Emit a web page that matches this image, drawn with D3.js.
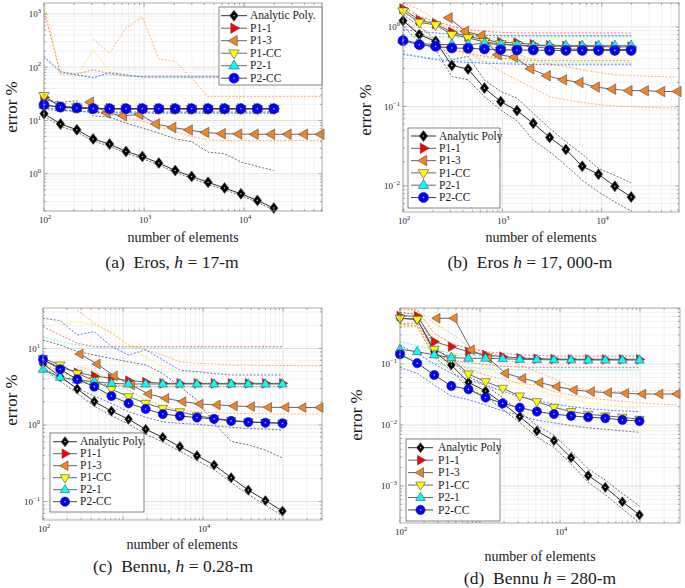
<!DOCTYPE html>
<html>
<head>
<meta charset="utf-8">
<script src="https://cdn.jsdelivr.net/npm/d3@7"></script>
<style>
  body { margin: 0; background: #fff; }
  svg text { font-family: "Liberation Serif", "DejaVu Serif", serif; fill: #1a1a1a; white-space: pre; }
</style>
</head>
<body>
<svg id="chart" width="685" height="588"></svg>
<script>
// ---------- data: number of elements ----------
const AB_N = [100, 146, 213, 310, 452, 660, 962, 1404, 2048, 2990, 4360, 6370, 9290, 13560, 19800, 28900, 42200, 58400];
const AB_P13_N = [290, 425, 620, 905, 1320, 1930, 2820, 4120, 6020, 8790, 12840, 18750, 27380, 39980, 58400];
const CD_N = [100, 164, 268, 438, 717, 1173, 1919, 3140, 5137, 8404, 13750, 22490, 36800, 60200, 98500, 177000, 290000];
const CD_P13_N = [290, 475, 778, 1274, 2087, 3418, 5598, 9170, 15020, 24600, 40300, 66000, 108100, 177100, 290000];

const X_TICKS_AB = [1e2, 1e3, 1e4];
const X_TICKS_CD = [1e2, 1e4];
const A_Y_TICKS = [1, 10, 100, 1000];
const B_Y_TICKS = [0.01, 0.1, 1];
const C_Y_TICKS = [0.1, 1, 10];
const D_Y_TICKS = [0.001, 0.01, 0.1];

// ---------- (a) Eros, h = 17 m ----------
const A_ANALYTIC = [13.4, 8.6, 6.7, 4.5, 3.6, 2.62, 2.11, 1.59, 1.15, 0.89, 0.69, 0.54, 0.42, 0.316, 0.227];
const A_P11 = [27, 18.5, 17.3, 16.8, 16.7, 16.6, 16.6, 16.6, 16.6, 16.6, 16.6, 16.6, 16.6, 16.6, 16.6];
const A_P13 = [22, 13.8, 12.2, 13, 8.6, 7.4, 6.6, 5.95, 5.65, 5.55, 5.5, 5.5, 5.5, 5.5, 5.5];
const A_P1CC = [29, 18.2, 17.8, 16.9, 16.7, 16.6, 16.6, 16.6, 16.6, 16.6, 16.6, 16.6, 16.6, 16.6, 16.6];
const A_P21 = [19.4, 17.6, 17, 16.6, 16.5, 16.5, 16.5, 16.5, 16.5, 16.5, 16.5, 16.5, 16.5, 16.5, 16.5];
const A_P2CC = [19.7, 17.8, 17.1, 16.7, 16.6, 16.6, 16.6, 16.6, 16.6, 16.6, 16.6, 16.6, 16.6, 16.6, 16.6];

const A_ANALYTIC_UP = [24.4, 21.8, 23.4, 12.2, 11.6, 8.9, 7.2, 5.8, 4.5, 4.0, 2.55, 2.37, 1.66, 1.37, 1.15];
const A_ANALYTIC_LO = [12, 7.8, 6.1, 4.1, 3.3, 2.4, 1.93, 1.46, 1.06, 0.82, 0.63, 0.5, 0.39, 0.29, 0.21];
const A_P11_UP = [1200, 75, 75, 89, 75, 68, 68, 68, 68, 68, 68, 68, 68, 68, 68];
const A_P11_LO = [16, 15.2, 14.8, 14.6, 14.5, 14.5, 14.5, 14.5, 14.5, 14.5, 14.5, 14.5, 14.5, 14.5, 14.5];
const A_P13_UP = [null, null, null, 337, 184, 542, 871, 142, 128, 62, 28, 28, 28, 28, 28, 28, 28, 28];
const A_P13_LO = [null, null, null, 13.8, 12.8, 11.1, 9.6, 7.7, 6.2, 5.0, 4.3, 4.2, 4.2, 4.2, 4.2, 4.2, 4.2, 4.2];
const A_P1CC_UP = [1800, 72, 67, 212, 83, 68, 67, 67, 67, 67, 67, 67, 67, 67, 67];
const A_P1CC_LO = [17, 15.5, 15, 14.4, 14.1, 14, 14, 14, 14, 14, 14, 14, 14, 14, 14];
const A_P21_UP = [150, 80, 70, 66, 72, 68, 66, 66, 66, 66, 66, 66, 66, 66, 66];
const A_P21_LO = [16.8, 15.4, 14.6, 14.1, 13.9, 13.8, 13.8, 13.8, 13.8, 13.8, 13.8, 13.8, 13.8, 13.8, 13.8];
const A_P2CC_UP = [159, 83, 72, 63, 79, 72, 65, 65, 65, 65, 65, 65, 65, 65, 65];
const A_P2CC_LO = [17.5, 16, 15, 14.3, 14, 13.8, 13.8, 13.8, 13.8, 13.8, 13.8, 13.8, 13.8, 13.8, 13.8];

// ---------- (b) Eros, h = 17,000 m ----------
const B_ANALYTIC = [1.2, 0.80, 0.659, 0.328, 0.295, 0.170, 0.115, 0.0886, 0.0613, 0.0408, 0.0288, 0.0177, 0.014, 0.0099, 0.00726];
const B_P11 = [1.69, 1.21, 1.1, 0.856, 0.763, 0.69, 0.64, 0.63, 0.6, 0.58, 0.57, 0.57, 0.565, 0.56, 0.56];
const B_P13 = [1.3, 0.88, 0.778, 0.447, 0.418, 0.298, 0.243, 0.216, 0.2, 0.175, 0.165, 0.158, 0.158, 0.154, 0.154];
const B_P1CC = [1.58, 1.14, 1.06, 0.8, 0.73, 0.65, 0.61, 0.59, 0.56, 0.54, 0.53, 0.52, 0.52, 0.52, 0.52];
const B_P21 = [0.69, 0.62, 0.6, 0.6, 0.6, 0.62, 0.6, 0.59, 0.58, 0.58, 0.58, 0.58, 0.58, 0.58, 0.58];
const B_P2CC = [0.672, 0.598, 0.57, 0.543, 0.538, 0.527, 0.517, 0.512, 0.512, 0.507, 0.507, 0.507, 0.507, 0.507, 0.507];

const B_ANALYTIC_UP = [1.43, 1.02, 0.69, 0.387, 0.426, 0.216, 0.154, 0.127, 0.082, 0.053, 0.036, 0.0251, 0.0166, 0.0136, 0.0109];
const B_ANALYTIC_LO = [1.02, 0.64, 0.517, 0.238, 0.216, 0.133, 0.0903, 0.0662, 0.0377, 0.0269, 0.0182, 0.0118, 0.0084, 0.00628, 0.00483];
const B_P11_UP = [1.82, 1.36, 1.18, 1.02, 0.925, 0.88, 0.856, 0.84, 0.84, 0.84, 0.84, 0.84, 0.84, 0.84, 0.84];
const B_P11_LO = [1.24, 0.84, 0.69, 0.517, 0.47, 0.426, 0.406, 0.387, 0.38, 0.376, 0.376, 0.376, 0.376, 0.376, 0.376];
const B_P13_UP = [2.0, 1.66, 1.24, 0.84, 0.73, 0.63, 0.52, 0.45, 0.39, 0.34, 0.318, 0.289, 0.268, 0.25, 0.245, 0.24, 0.236, 0.233];
const B_P13_LO = [null, null, null, 0.517, 0.47, 0.368, 0.275, 0.216, 0.17, 0.133, 0.121, 0.112, 0.106, 0.101, 0.0995, 0.0976, 0.0958, 0.095];
const B_P1CC_UP = [1.75, 1.3, 1.12, 0.95, 0.87, 0.82, 0.8, 0.78, 0.775, 0.77, 0.77, 0.77, 0.77, 0.77, 0.77];
const B_P1CC_LO = [1.2, 0.8, 0.66, 0.5, 0.45, 0.41, 0.39, 0.37, 0.365, 0.36, 0.36, 0.36, 0.36, 0.36, 0.36];
const B_P21_UP = [0.76, 0.75, 0.745, 0.745, 0.745, 0.745, 0.745, 0.745, 0.745, 0.745, 0.745, 0.745, 0.745, 0.745, 0.745];
const B_P21_LO = [0.47, 0.43, 0.4, 0.385, 0.375, 0.368, 0.36, 0.355, 0.35, 0.35, 0.35, 0.35, 0.35, 0.35, 0.35];
const B_P2CC_UP = [0.925, 0.88, 0.84, 0.816, 0.80, 0.78, 0.777, 0.777, 0.777, 0.777, 0.777, 0.777, 0.777, 0.777, 0.777];
const B_P2CC_LO = [0.45, 0.42, 0.387, 0.368, 0.357, 0.35, 0.344, 0.34, 0.337, 0.334, 0.334, 0.334, 0.334, 0.334, 0.334];

// ---------- (c) Bennu, h = 0.28 m ----------
const C_ANALYTIC = [6.3, 4.3, 2.96, 2.02, 1.52, 1.19, 0.877, 0.69, 0.521, 0.397, 0.3, 0.205, 0.141, 0.103, 0.075];
const C_P11 = [7.0, 5.7, 4.83, 4.37, 4.07, 3.8, 3.65, 3.5, 3.5, 3.5, 3.5, 3.5, 3.5, 3.5, 3.5];
const C_P13 = [8.47, 6.27, 4.37, 3.33, 2.54, 2.23, 2.02, 1.88, 1.83, 1.77, 1.74, 1.70, 1.70, 1.69, 1.69];
const C_P1CC = [7.4, 6.09, 4.73, 3.8, 2.93, 2.35, 1.92, 1.65, 1.49, 1.32, 1.22, 1.15, 1.1, 1.08, 1.06];
const C_P21 = [5.34, 4.2, 3.87, 3.68, 3.5, 3.43, 3.43, 3.43, 3.43, 3.43, 3.43, 3.43, 3.43, 3.43, 3.43];
const C_P2CC = [7.2, 5.34, 3.95, 3.17, 2.39, 1.92, 1.62, 1.39, 1.31, 1.25, 1.2, 1.13, 1.09, 1.07, 1.05];

const C_ANALYTIC_UP = [12.9, 11.1, 9.1, 8.2, 7.4, 6.7, 6.1, 4.7, 3.2, 2.12, 1.05, 0.61, 0.55, 0.47, 0.37];
const C_ANALYTIC_LO = [5.5, 3.75, 2.58, 1.76, 1.32, 1.03, 0.76, 0.6, 0.453, 0.345, 0.26, 0.178, 0.123, 0.09, 0.065];
const C_P11_UP = [19.3, 15, 11.7, 10.6, 10.6, 10.6, 10.6, 10.6, 10.6, 10.6, 10.6, 10.6, 10.6, 10.6, 10.6];
const C_P11_LO = [6.3, 5.0, 4.0, 3.5, 3.3, 3.2, 3.17, 3.17, 3.17, 3.17, 3.17, 3.17, 3.17, 3.17, 3.17];
const C_P13_UP = [null, null, 31.9, 21.3, 15.8, 11.1, 9.6, 8.2, 6.7, 6.4, 6.3, 6.1, 6.1, 6.0, 6.0, 5.95, 5.9];
const C_P13_LO = [null, null, 5.8, 5.0, 3.8, 2.87, 2.12, 1.74, 1.57, 1.49, 1.45, 1.42, 1.41, 1.4, 1.39, 1.39, 1.39];
const C_P1CC_UP = [27.4, 20.3, 22.4, 20.3, 16.6, 11.1, 7.8, 5.8, 5.0, 4.8, 4.7, 4.7, 4.7, 4.7, 4.7];
const C_P1CC_LO = [6.5, 5.0, 3.7, 2.9, 2.25, 1.8, 1.45, 1.25, 1.12, 1.05, 1.0, 0.96, 0.93, 0.9, 0.88];
const C_P21_UP = [14.3, 12.3, 11.1, 10.4, 10.1, 10.1, 10.1, 10.1, 10.1, 10.1, 10.1, 10.1, 10.1, 10.1, 10.1];
const C_P21_LO = [4.7, 4.2, 3.7, 3.43, 3.17, 3.17, 3.17, 3.17, 3.17, 3.17, 3.17, 3.17, 3.17, 3.17, 3.17];
const C_P2CC_UP = [24.8, 23.1, 15, 16.6, 10.6, 8.2, 9.6, 7.1, 5.2, 5.0, 4.7, 4.5, 4.5, 4.5, 4.5];
const C_P2CC_LO = [5.5, 4.2, 3.02, 2.39, 1.92, 1.49, 1.26, 1.1, 1.05, 1.02, 0.97, 0.93, 0.9, 0.88, 0.86];

// ---------- (d) Bennu, h = 280 m ----------
const D_ANALYTIC = [0.561, 0.54, 0.159, 0.0963, 0.05, 0.0361, 0.0226, 0.0137, 0.00798, 0.00553, 0.00291, 0.00148, 0.00095, 0.00055, 0.000335];
const D_P11 = [0.612, 0.61, 0.232, 0.192, 0.159, 0.141, 0.132, 0.125, 0.122, 0.12, 0.119, 0.119, 0.119, 0.119, 0.119];
const D_P13 = [0.561, 0.561, 0.17, 0.124, 0.0703, 0.0582, 0.0494, 0.0425, 0.0375, 0.0352, 0.0339, 0.033, 0.0322, 0.0322, 0.0322];
const D_P1CC = [0.561, 0.54, 0.174, 0.124, 0.0686, 0.0513, 0.0399, 0.0299, 0.0241, 0.0195, 0.0166, 0.015, 0.0141, 0.0134, 0.0124];
const D_P21 = [0.174, 0.159, 0.141, 0.127, 0.124, 0.124, 0.122, 0.119, 0.118, 0.117, 0.117, 0.116, 0.116, 0.116, 0.116];
const D_P2CC = [0.144, 0.103, 0.066, 0.0436, 0.0384, 0.0281, 0.0226, 0.0192, 0.0166, 0.0151, 0.0141, 0.0134, 0.0129, 0.0121, 0.0116];

const D_ANALYTIC_UP = [0.7, 0.65, 0.2, 0.115, 0.062, 0.045, 0.028, 0.0165, 0.0098, 0.0068, 0.0037, 0.0019, 0.00125, 0.00075, 0.00047];
const D_ANALYTIC_LO = [0.45, 0.42, 0.13, 0.078, 0.04, 0.029, 0.018, 0.011, 0.0063, 0.0043, 0.0023, 0.00115, 0.00072, 0.00042, 0.00025];
const D_P11_UP = [0.83, 0.77, 0.318, 0.218, 0.18, 0.159, 0.15, 0.141, 0.138, 0.135, 0.135, 0.135, 0.135, 0.135, 0.135];
const D_P11_LO = [0.464, 0.464, 0.15, 0.115, 0.105, 0.098, 0.092, 0.089, 0.088, 0.088, 0.088, 0.088, 0.088, 0.088, 0.088];
const D_P13_UP = [0.767, 0.767, 0.464, 0.318, 0.192, 0.159, 0.132, 0.096, 0.075, 0.058, 0.0425, 0.0375, 0.036, 0.0352, 0.036, 0.0365, 0.0365];
const D_P13_LO = [0.41, 0.41, 0.132, 0.1, 0.085, 0.066, 0.056, 0.048, 0.045, 0.035, 0.031, 0.0274, 0.026, 0.0244, 0.023, 0.022, 0.0213];
const D_P1CC_UP = [0.8, 0.75, 0.25, 0.16, 0.116, 0.09, 0.066, 0.045, 0.0375, 0.031, 0.0257, 0.0233, 0.0213, 0.02, 0.0188];
const D_P1CC_LO = [0.44, 0.42, 0.12, 0.08, 0.045, 0.032, 0.024, 0.0175, 0.0137, 0.0113, 0.0094, 0.0088, 0.0085, 0.0083, 0.0082];
const D_P21_UP = [0.232, 0.2, 0.17, 0.15, 0.141, 0.135, 0.13, 0.127, 0.125, 0.124, 0.124, 0.124, 0.124, 0.124, 0.124];
const D_P21_LO = [0.132, 0.116, 0.103, 0.093, 0.088, 0.084, 0.082, 0.08, 0.08, 0.08, 0.08, 0.08, 0.08, 0.08, 0.08];
const D_P2CC_UP = [0.2, 0.15, 0.1, 0.07, 0.055, 0.045, 0.036, 0.029, 0.025, 0.022, 0.02, 0.0185, 0.0176, 0.017, 0.0166];
const D_P2CC_LO = [0.088, 0.07, 0.045, 0.03, 0.026, 0.0212, 0.017, 0.0143, 0.012, 0.0108, 0.0098, 0.009, 0.0085, 0.008, 0.0076];

// ---------- styling ----------
const FONT = '"Liberation Serif", "DejaVu Serif", serif';
const SERIES = [
  { key: 'analytic', label: 'Analytic Poly.', shape: 'diamond', fill: '#000000', band: '#4a4a4a', line: '#1a1a1a' },
  { key: 'p11',  label: 'P1-1',  shape: 'right',  fill: '#ff0000', band: '#ff5050', line: '#555' },
  { key: 'p13',  label: 'P1-3',  shape: 'left',   fill: '#f5841f', band: '#ffa04a', line: '#555' },
  { key: 'p1cc', label: 'P1-CC', shape: 'down',   fill: '#ffff00', band: '#f2ee3a', line: '#555' },
  { key: 'p21',  label: 'P2-1',  shape: 'up',     fill: '#00ffff', band: '#4aeeee', line: '#555' },
  { key: 'p2cc', label: 'P2-CC', shape: 'circle', fill: '#0000ff', band: '#4a4aff', line: '#333' },
];

const PANELS = [
  {
    id: 'a', N: AB_N, N13: AB_P13_N, box: [44, 3, 322, 211], xDom: [100, 60000], yDom: [0.2, 1600],
    xTicks: X_TICKS_AB, yTicks: A_Y_TICKS, r: 5,
    series: { analytic: A_ANALYTIC, p11: A_P11, p13: A_P13, p1cc: A_P1CC, p21: A_P21, p2cc: A_P2CC },
    bands: { analytic: [A_ANALYTIC_UP, A_ANALYTIC_LO], p11: [A_P11_UP, A_P11_LO], p13: [A_P13_UP, A_P13_LO],
             p1cc: [A_P1CC_UP, A_P1CC_LO], p21: [A_P21_UP, A_P21_LO], p2cc: [A_P2CC_UP, A_P2CC_LO] },
    legend: { x: 219, y: 7, w: 103, h: 78, row0: 15.7, dy: 12.5, lx: 221, lw: 26, tx: 250 },
    analyticLabel: 'Analytic Poly.',
    ylab: [13, 107], xlab: [183, 238],
    cap: { x: 172, y: 263, parts: [['(a)  Eros, ', false], ['h', true], [' = 17-m', false]] }
  },
  {
    id: 'b', N: AB_N, N13: AB_P13_N, box: [403, 3, 679, 212], xDom: [100, 60000], yDom: [0.0047, 2.0],
    xTicks: X_TICKS_AB, yTicks: B_Y_TICKS, r: 5,
    series: { analytic: B_ANALYTIC, p11: B_P11, p13: B_P13, p1cc: B_P1CC, p21: B_P21, p2cc: B_P2CC },
    bands: { analytic: [B_ANALYTIC_UP, B_ANALYTIC_LO], p11: [B_P11_UP, B_P11_LO], p13: [B_P13_UP, B_P13_LO],
             p1cc: [B_P1CC_UP, B_P1CC_LO], p21: [B_P21_UP, B_P21_LO], p2cc: [B_P2CC_UP, B_P2CC_LO] },
    legend: { x: 408, y: 128, w: 92, h: 80, row0: 136, dy: 12.3, lx: 411, lw: 25, tx: 439 },
    analyticLabel: 'Analytic Poly',
    ylab: [367, 110], xlab: [541, 238],
    cap: { x: 530, y: 263, parts: [['(b)  Eros ', false], ['h', true], [' = 17, 000-m', false]] }
  },
  {
    id: 'c', N: CD_N, N13: CD_P13_N, box: [43, 308, 322, 520], xDom: [100, 307000], yDom: [0.0573, 33.8],
    xTicks: X_TICKS_CD, yTicks: C_Y_TICKS, r: 4.6,
    series: { analytic: C_ANALYTIC, p11: C_P11, p13: C_P13, p1cc: C_P1CC, p21: C_P21, p2cc: C_P2CC },
    bands: { analytic: [C_ANALYTIC_UP, C_ANALYTIC_LO], p11: [C_P11_UP, C_P11_LO], p13: [C_P13_UP, C_P13_LO],
             p1cc: [C_P1CC_UP, C_P1CC_LO], p21: [C_P21_UP, C_P21_LO], p2cc: [C_P2CC_UP, C_P2CC_LO] },
    legend: { x: 50, y: 433, w: 94, h: 79, row0: 441.7, dy: 12, lx: 53, lw: 24, tx: 80 },
    analyticLabel: 'Analytic Poly.',
    ylab: [13, 400], xlab: [182, 545],
    cap: { x: 173, y: 567, parts: [['(c)  Bennu, ', false], ['h', true], [' = 0.28-m', false]] }
  },
  {
    id: 'd', N: CD_N, N13: CD_P13_N, box: [400, 308, 680, 523], xDom: [100, 316000], yDom: [0.000247, 0.828],
    xTicks: X_TICKS_CD, yTicks: D_Y_TICKS, r: 4.6,
    series: { analytic: D_ANALYTIC, p11: D_P11, p13: D_P13, p1cc: D_P1CC, p21: D_P21, p2cc: D_P2CC },
    bands: { analytic: [D_ANALYTIC_UP, D_ANALYTIC_LO], p11: [D_P11_UP, D_P11_LO], p13: [D_P13_UP, D_P13_LO],
             p1cc: [D_P1CC_UP, D_P1CC_LO], p21: [D_P21_UP, D_P21_LO], p2cc: [D_P2CC_UP, D_P2CC_LO] },
    legend: { x: 406, y: 439, w: 94, h: 82, row0: 447.7, dy: 12.45, lx: 408, lw: 25, tx: 438 },
    analyticLabel: 'Analytic Poly',
    ylab: [358, 415], xlab: [540, 557],
    cap: { x: 540, y: 579, parts: [['(d)  Bennu ', false], ['h', true], [' = 280-m', false]] }
  }
];

const svg = d3.select('#chart');
svg.append('rect').attr('width', 685).attr('height', 588).attr('fill', '#fff');

function markerPath(shape, s) {
  switch (shape) {
    case 'diamond': return `M0,${-s * 1.1}L${s * 0.85},0L0,${s * 1.1}L${-s * 0.85},0Z`;
    case 'up':    return `M0,${-s * 1.15}L${s * 1.05},${s * 0.65}L${-s * 1.05},${s * 0.65}Z`;
    case 'down':  return `M0,${s * 1.15}L${s * 1.05},${-s * 0.65}L${-s * 1.05},${-s * 0.65}Z`;
    case 'right': return `M${s * 1.15},0L${-s * 0.65},${s * 1.05}L${-s * 0.65},${-s * 1.05}Z`;
    case 'left':  return `M${-s * 1.15},0L${s * 0.65},${s * 1.05}L${s * 0.65},${-s * 1.05}Z`;
  }
}

function drawMarker(g, shape, fill, r, cx, cy) {
  const edge = shape === 'circle' ? '#1a1a8a' : '#4d4d4d';
  if (shape === 'circle') {
    g.append('circle').attr('cx', cx).attr('cy', cy).attr('r', r)
      .attr('fill', fill).attr('stroke', edge).attr('stroke-width', 0.6);
  } else {
    g.append('path').attr('transform', `translate(${cx},${cy})`).attr('d', markerPath(shape, r))
      .attr('fill', fill).attr('stroke', edge).attr('stroke-width', 0.6);
  }
  if (shape === 'diamond' || shape === 'circle') {
    g.append('circle').attr('cx', cx).attr('cy', cy).attr('r', 0.8)
      .attr('fill', '#fff').attr('opacity', 0.75);
  }
}

function logSteps([lo, hi]) {
  const out = [];
  for (let e = Math.floor(Math.log10(lo)); e <= Math.ceil(Math.log10(hi)); e++) {
    for (let m = 1; m <= 9; m++) {
      const v = m * Math.pow(10, e);
      if (v >= lo * 0.9999 && v <= hi * 1.0001) out.push({ v, major: m === 1 });
    }
  }
  return out;
}

function powLabel(sel, v) {
  const e = Math.round(Math.log10(v));
  sel.append('tspan').text('10');
  sel.append('tspan').attr('dy', -4.2).attr('font-size', 6.5).text(String(e).replace('-', '\u2212'));
}

PANELS.forEach(p => {
  const [x0, y0, x1, y1] = p.box;
  const x = d3.scaleLog().domain(p.xDom).range([x0, x1]);
  const y = d3.scaleLog().domain(p.yDom).range([y1, y0]);
  const g = svg.append('g').attr('font-family', FONT);

  const clipId = 'clip-' + p.id;
  svg.append('clipPath').attr('id', clipId).append('rect')
    .attr('x', x0).attr('y', y0).attr('width', x1 - x0).attr('height', y1 - y0);

  // grid
  const grid = g.append('g');
  logSteps(p.xDom).forEach(t => {
    grid.append('line').attr('x1', x(t.v)).attr('x2', x(t.v)).attr('y1', y0).attr('y2', y1)
      .attr('stroke', t.major ? '#d4d4d4' : '#ececec').attr('stroke-width', 0.7);
  });
  logSteps(p.yDom).forEach(t => {
    grid.append('line').attr('y1', y(t.v)).attr('y2', y(t.v)).attr('x1', x0).attr('x2', x1)
      .attr('stroke', t.major ? '#d4d4d4' : '#ececec').attr('stroke-width', 0.7);
  });

  const plot = g.append('g').attr('clip-path', `url(#${clipId})`);

  // dotted bounds
  SERIES.forEach(s => {
    p.bands[s.key].forEach(arr => {
      const pts = arr.map((v, i) => [p.N[i], v]).filter(d => d[1] != null);
      const line = d3.line().x(d => x(d[0])).y(d => y(d[1]));
      plot.append('path').attr('d', line(pts)).attr('fill', 'none')
        .attr('stroke', s.band).attr('stroke-width', 0.8).attr('stroke-dasharray', '2,1.6');
    });
  });

  // series lines + markers
  SERIES.forEach(s => {
    const Ns = s.key === 'p13' ? p.N13 : p.N;
    const pts = p.series[s.key].map((v, i) => [Ns[i], v]);
    const line = d3.line().x(d => x(d[0])).y(d => y(d[1]));
    plot.append('path').attr('d', line(pts)).attr('fill', 'none')
      .attr('stroke', s.line).attr('stroke-width', 0.9);
    const mg = g.append('g');
    pts.forEach(d => drawMarker(mg, s.shape, s.fill, p.r, x(d[0]), y(d[1])));
  });

  // axes box and ticks
  const ax = g.append('g').attr('stroke', '#8a8a8a').attr('stroke-width', 0.7);
  logSteps(p.xDom).forEach(t => {
    const L = t.major ? 3.5 : 2;
    ax.append('line').attr('x1', x(t.v)).attr('x2', x(t.v)).attr('y1', y1).attr('y2', y1 - L);
    ax.append('line').attr('x1', x(t.v)).attr('x2', x(t.v)).attr('y1', y0).attr('y2', y0 + L);
  });
  logSteps(p.yDom).forEach(t => {
    const L = t.major ? 3.5 : 2;
    ax.append('line').attr('y1', y(t.v)).attr('y2', y(t.v)).attr('x1', x0).attr('x2', x0 + L);
    ax.append('line').attr('y1', y(t.v)).attr('y2', y(t.v)).attr('x1', x1).attr('x2', x1 - L);
  });
  ax.append('rect').attr('x', x0).attr('y', y0).attr('width', x1 - x0).attr('height', y1 - y0)
    .attr('fill', 'none');

  // tick labels
  p.xTicks.forEach(v => {
    const t = g.append('text').attr('x', x(v) + 1).attr('y', y1 + 12)
      .attr('text-anchor', 'middle').attr('font-size', 9);
    powLabel(t, v);
  });
  p.yTicks.forEach(v => {
    const t = g.append('text').attr('x', x0 - 3).attr('y', y(v) + 3.5)
      .attr('text-anchor', 'end').attr('font-size', 9);
    powLabel(t, v);
  });

  // axis labels
  g.append('text').attr('transform', `translate(${p.ylab[0] + 4},${p.ylab[1]}) rotate(-90)`)
    .attr('text-anchor', 'middle').attr('font-size', 17).text('error %');
  g.append('text').attr('x', p.xlab[0]).attr('y', p.xlab[1] + 4)
    .attr('text-anchor', 'middle').attr('font-size', 14).text('number of elements');

  // legend
  const lg = p.legend;
  const leg = g.append('g');
  leg.append('rect').attr('x', lg.x).attr('y', lg.y).attr('width', lg.w).attr('height', lg.h)
    .attr('fill', '#fff').attr('stroke', '#333').attr('stroke-width', 0.6);
  SERIES.forEach((s, i) => {
    const ly = lg.row0 + i * lg.dy;
    leg.append('line').attr('x1', lg.lx).attr('x2', lg.lx + lg.lw).attr('y1', ly).attr('y2', ly)
      .attr('stroke', s.line).attr('stroke-width', 0.9);
    drawMarker(leg, s.shape, s.fill, p.r, lg.lx + lg.lw / 2, ly);
    leg.append('text').attr('x', lg.tx).attr('y', ly + 3.6).attr('font-size', 11.5)
      .text(s.key === 'analytic' ? p.analyticLabel : s.label);
  });

  // caption
  const cap = g.append('text').attr('x', p.cap.x).attr('y', p.cap.y + 5)
    .attr('text-anchor', 'middle').attr('font-size', 17.5);
  p.cap.parts.forEach(([txt, it]) => {
    cap.append('tspan').attr('font-style', it ? 'italic' : 'normal').text(txt);
  });
});
</script>
</body>
</html>
